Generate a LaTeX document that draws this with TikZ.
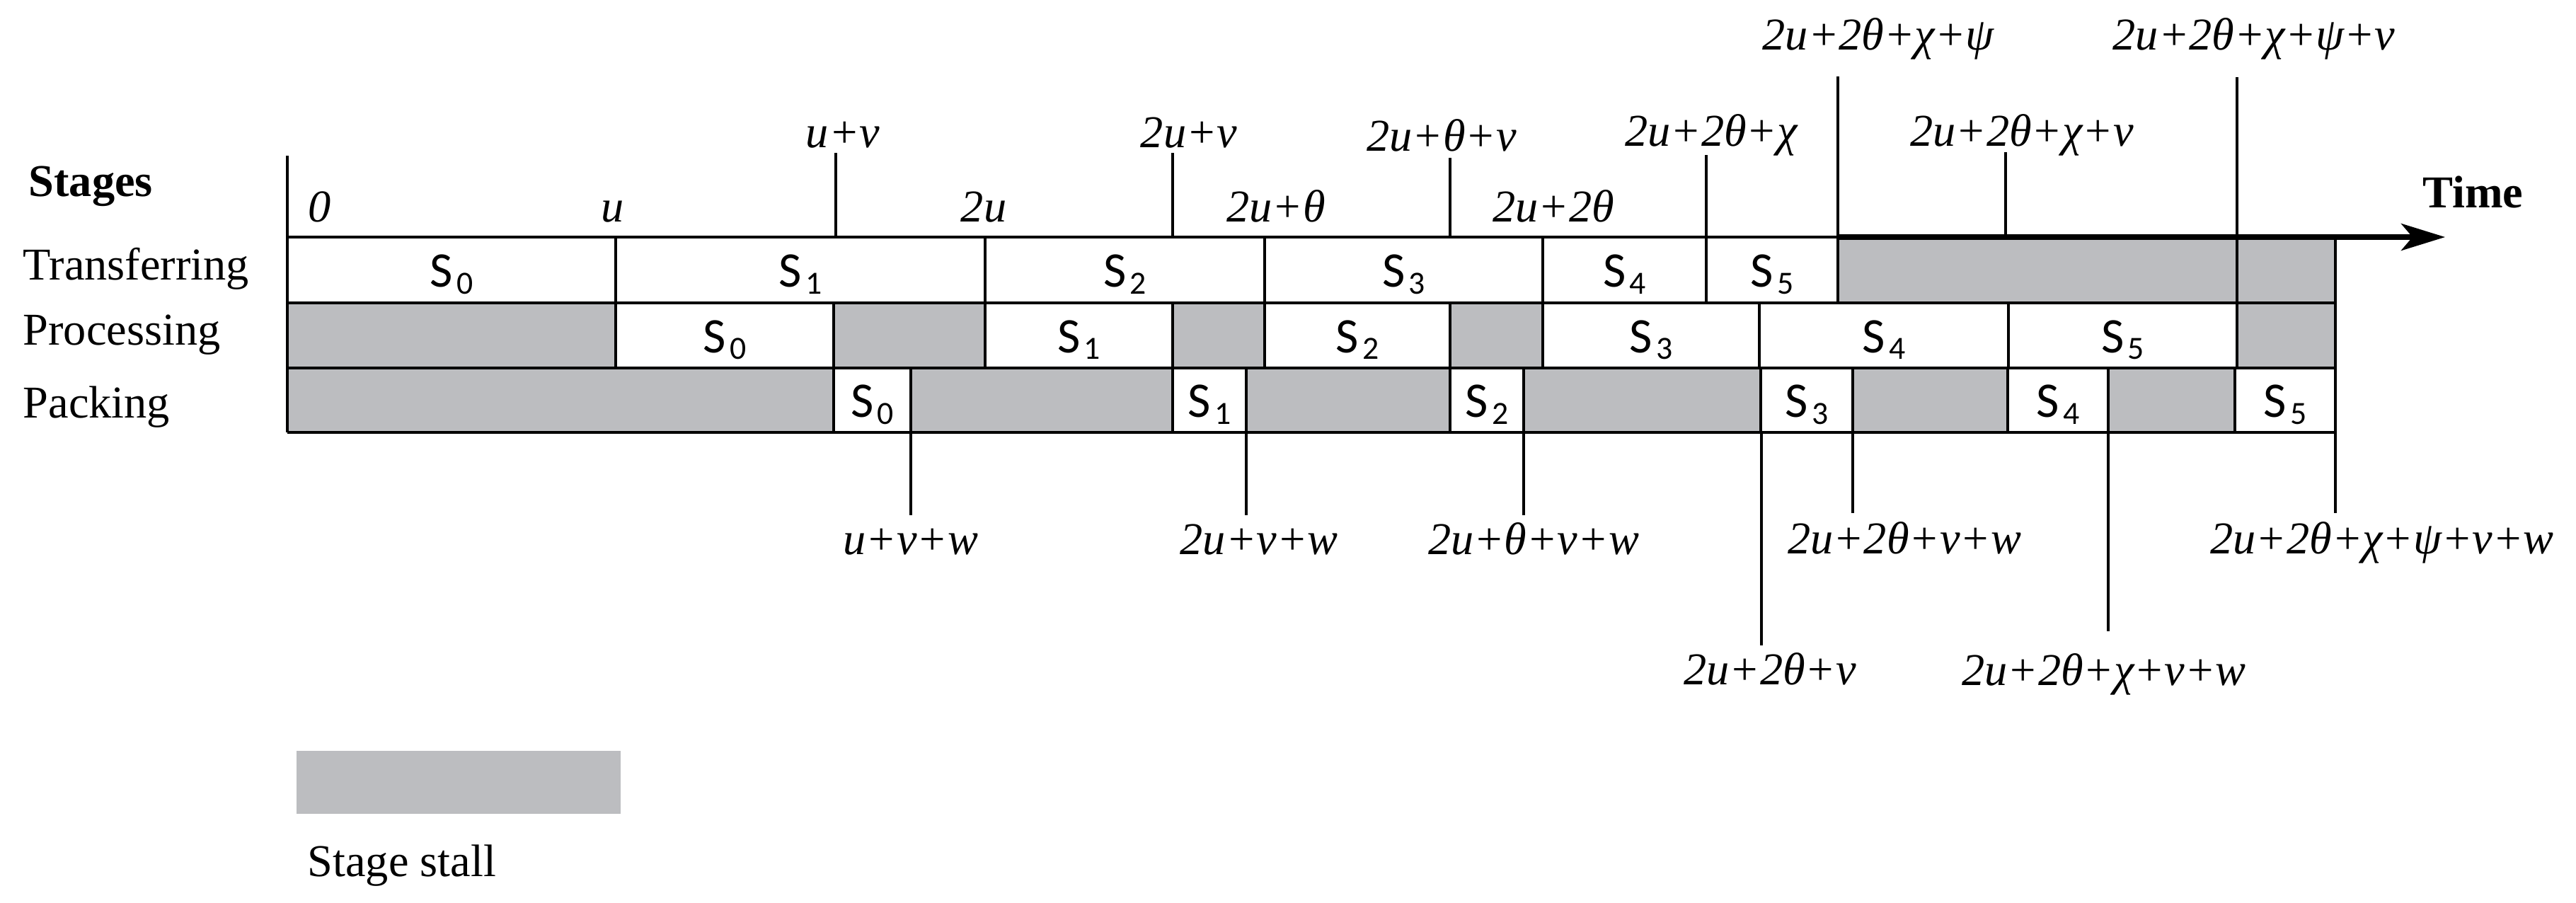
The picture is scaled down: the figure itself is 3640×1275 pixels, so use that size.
\documentclass[tikz,border=0pt]{standalone}
\usepackage{fontspec}
\setmainfont{Liberation Serif}
\newfontfamily\cellfont{Carlito}
\usetikzlibrary{arrows.meta}
\definecolor{stall}{RGB}{188,189,192}
\newcommand{\stg}[1]{{\cellfont\fontsize{20}{20}\selectfont S\kern1.5pt\raisebox{-2.8pt}{\fontsize{13}{13}\selectfont #1}}}

\begin{document}
\begin{tikzpicture}[x=0.01cm,y=-0.01cm,>={Stealth[length=6.2mm,width=3.8mm,inset=1.6mm]},
    font=\fontsize{18.3}{20}\selectfont, line width=0.95pt,
    tm/.style={anchor=base,inner sep=0pt,font=\fontsize{18.3}{20}\selectfont\itshape},
    lb/.style={anchor=base west,inner sep=0pt},
    sl/.style={anchor=base,inner sep=0pt}]
    \useasboundingbox (0,0) rectangle (3640,1275);
    \def\ya{335} \def\yb{428} \def\yc{520} \def\yd{611} % row borders
    \def\xs{406} \def\xe{3300} % start and end of the chart
    % stalls
    \foreach \l/\r in {2597/3161,3161/3300} \fill[stall] (\l,\ya) rectangle (\r,\yb);
    \foreach \l/\r in {406/870,1178/1392,1657/1787,2049/2180,3161/3300} \fill[stall] (\l,\yb) rectangle (\r,\yc);
    \foreach \l/\r in {406/1178,1287/1657,1761/2049,2153/2488,2618/2837,2979/3158} \fill[stall] (\l,\yc) rectangle (\r,\yd);
    % busy slots
    \foreach \l/\r [count=\i from 0] in {406/870,870/1392,1392/1787,1787/2180,2180/2411,2411/2597}{
        \draw (\l,\ya) rectangle (\r,\yb);
        \node (tr\i) at ({(\l+\r)/2},{(\ya+\yb)/2+24}) [sl] {\stg{\i}};}
    \foreach \l/\r [count=\i from 0] in {870/1178,1392/1657,1787/2049,2180/2486,2486/2838,2838/3161}{
        \draw (\l,\yb) rectangle (\r,\yc);
        \node (pr\i) at ({(\l+\r)/2},{(\yb+\yc)/2+24}) [sl] {\stg{\i}};}
    \foreach \l/\r [count=\i from 0] in {1178/1287,1657/1761,2049/2153,2488/2618,2837/2979,3158/3300}{
        \draw (\l,\yc) rectangle (\r,\yd);
        \node (pk\i) at ({(\l+\r)/2},{(\yc+\yd)/2+24}) [sl] {\stg{\i}};}
    % frame and time axis
    \draw (\xs,\yb) -- (\xe,\yb) (\xs,\yc) -- (\xe,\yc) (\xs,\yd) -- (\xe,\yd);
    \draw (\xs,\ya) -- (\xs,\yd) (\xe,\ya) -- (\xe,\yd);
    \draw[line width=1.4pt] (\xs,220) -- (\xs,\ya);
    \draw (\xs,\ya) -- (2597,\ya);
    \draw[->,line width=2pt] (2597,\ya) -- (3455,\ya);
    % ticks
    \foreach \x/\y in {1181/216,1657/216,2049/223,2411/219,2834/215} \draw (\x,\y) -- (\x,\ya);
    \foreach \x/\y in {2597/108,3161/109} \draw (\x,\y) -- (\x,\yb);
    \foreach \x/\y in {1287/728,1761/728,2153/728,2489/912,2618/725,2979/892,3300/725} \draw (\x,\yd) -- (\x,\y);
    % instants
    \foreach \x/\y/\lab [count=\i] in {452/313/0,866/313/u,1390/313/2u,1803/313/2u+θ,2195/313/2u+2θ,
        1191/208/u+v,1680/208/2u+v,2037/213/2u+θ+v,2418/206/2u+2θ+χ,2857/206/2u+2θ+χ+v,
        2654/70/2u+2θ+χ+ψ,3185/70/2u+2θ+χ+ψ+v}
        \node (up\i) at (\x,\y) [tm] {\lab};
    \foreach \x/\y/\lab [count=\i] in {1287/783/u+v+w,1779/783/2u+v+w,2167/783/2u+θ+v+w,
        2691/782/2u+2θ+v+w,3366/782/2u+2θ+χ+ψ+v+w,2501/967/2u+2θ+v,2973/968/2u+2θ+χ+v+w}
        \node (dn\i) at (\x,\y) [tm] {\lab};
    % stage names
    \node (stages) at (39,277) [lb] {\bfseries Stages};
    \node (trans) at (31,395) [lb] {Transferring};
    \node (proc) at (31,487) [lb] {Processing};
    \node (pack) at (31,590) [lb] {Packing};
    \node (time) at (3422,293) [lb] {\bfseries Time};
    % legend
    \fill[stall] (419,1061) rectangle (877,1150);
    \node (stall) at (433,1238) [lb] {Stage stall};
\end{tikzpicture}
\end{document}
